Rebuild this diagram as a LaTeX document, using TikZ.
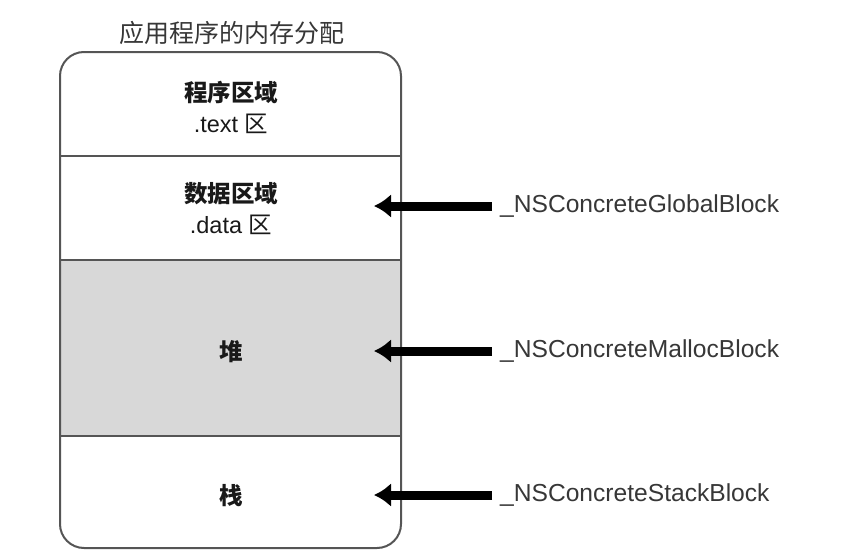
\documentclass[tikz,border=0pt]{standalone}
\usepackage{fontspec}
\setmainfont{Liberation Sans}
\newfontfamily\cjk{Noto Sans CJK SC}
\usetikzlibrary{arrows.meta, positioning}
\definecolor{framegray}{RGB}{85,85,85}
\definecolor{heapgray}{RGB}{216,216,216}
\definecolor{labelgray}{RGB}{55,55,55}
\tikzset{
  region/.style     = {align=center, text=black!90, inner sep=0pt,
                       font=\fontsize{23.5}{31}\selectfont},
  blocklabel/.style = {anchor=west, inner sep=8pt, text=labelgray,
                       font=\fontsize{24.6}{28}\selectfont},
  fatarrow/.style   = {-{Latex[length=17pt, width=24pt]}, line width=9pt, black},
  memframe/.style   = {draw=framegray, line width=2pt, rounded corners=24pt},
  divider/.style    = {draw=framegray, line width=2pt},
}

\begin{document}
\begin{tikzpicture}[x=1pt, y=-1pt]
\useasboundingbox (0,0) rectangle (844,554);

% ---------------- memory layout ----------------
\node[text=labelgray, font=\cjk\fontsize{25}{30}\selectfont] (title) at (232,33) {应用程序的内存分配};

\fill[heapgray] (60,260) rectangle (401,436);
\draw[memframe] (60,52) rectangle (401,548);
\draw[divider] (60,156) -- (401,156);
\draw[divider] (60,260) -- (401,260);
\draw[divider] (60,436) -- (401,436);

\node[region] (text) at (231,107) {{\cjk\bfseries 程序区域}\\.text {\cjk 区}};
\node[region] (data) at (231,209) {{\cjk\bfseries 数据区域}\\.data {\cjk 区}};
\node[region, font=\cjk\bfseries\fontsize{23.5}{31}\selectfont] (heap) at (231,352) {堆};
\node[region, font=\cjk\bfseries\fontsize{23.5}{31}\selectfont] (stack) at (231,496) {栈};

% ---------------- block kinds ----------------
\coordinate (tipglobal) at (374,206);
\coordinate (tipmalloc) at (374,351);
\coordinate (tipstack)  at (374,495);

\node[blocklabel] (global) at (492,206) {\_NSConcreteGlobalBlock};
\node[blocklabel] (malloc) at (492,351) {\_NSConcreteMallocBlock};
\node[blocklabel] (stackblk) at (492,495) {\_NSConcreteStackBlock};

\draw[fatarrow] (global.west) -- (tipglobal);
\draw[fatarrow] (malloc.west) -- (tipmalloc);
\draw[fatarrow] (stackblk.west) -- (tipstack);

\end{tikzpicture}
\end{document}
